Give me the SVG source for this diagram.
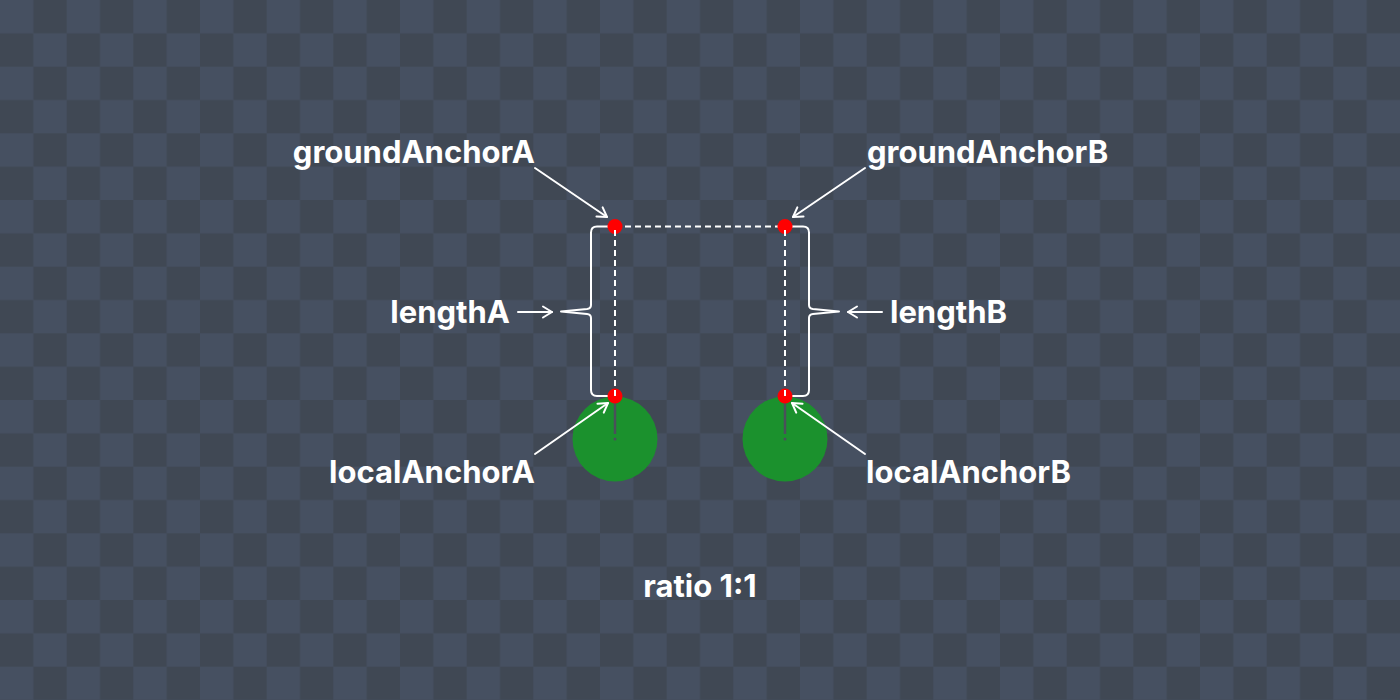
<svg xmlns="http://www.w3.org/2000/svg" width="1400" height="700" viewBox="0 0 1400 700">
  <defs>
    <pattern id="checker" x="0" y="0" width="66.6667" height="66.6667" patternUnits="userSpaceOnUse">
      <rect x="0" y="0" width="66.6667" height="66.6667" fill="#465061"/>
      <rect x="33.3333" y="0" width="33.3333" height="33.3333" fill="#404854"/>
      <rect x="0" y="33.3333" width="33.3333" height="33.3333" fill="#404854"/>
    </pattern>
    <marker id="arrow" viewBox="-12 -7 14 14" markerWidth="14" markerHeight="14" refX="0" refY="0" orient="auto" markerUnits="userSpaceOnUse">
      <path d="M -9 -5.5 L 0 0 L -9 5.5" fill="none" stroke="#ffffff" stroke-width="2" stroke-linecap="round" stroke-linejoin="round"/>
    </marker>
    <style>
      .label { font-family: Inter, "Liberation Sans", sans-serif; font-weight: 700; font-size: 31px; fill: #ffffff; }
      .conn { stroke: #ffffff; stroke-width: 2; fill: none; stroke-linecap: round; }
      .dash { stroke: #ffffff; stroke-width: 2; fill: none; stroke-dasharray: 6 4; }
      .brace { stroke: #ffffff; stroke-width: 2; fill: none; stroke-linejoin: round; }
      .anchor { fill: #ff0000; }
      .body { fill: #1b912d; }
      .axis { stroke: #4a505a; stroke-width: 2.5; }
    </style>
  </defs>
  <rect x="0" y="0" width="1400" height="700" fill="url(#checker)"/>

  <g id="bodyA">
    <circle class="body" cx="615" cy="439" r="42.5"/>
    <line class="axis" x1="615" y1="396" x2="615" y2="434"/>
    <circle cx="615" cy="439" r="1.5" fill="#4a505a"/>
  </g>
  <g id="bodyB">
    <circle class="body" cx="785" cy="439" r="42.5"/>
    <line class="axis" x1="785" y1="396" x2="785" y2="434"/>
    <circle cx="785" cy="439" r="1.5" fill="#4a505a"/>
  </g>

  <g id="connectors">
    <line class="dash" x1="615" y1="226.5" x2="785" y2="226.5"/>
    <path class="brace" d="M 615 226.5 H 597 Q 591 226.5 591 232.5 V 305 Q 591 308.5 587 309 L 561 311.5 L 587 314 Q 591 314.5 591 318 V 390 Q 591 396 597 396 H 615"/>
    <path class="brace" d="M 785 226.5 H 803 Q 809 226.5 809 232.5 V 305 Q 809 308.5 813 309 L 839 311.5 L 813 314 Q 809 314.5 809 318 V 390 Q 809 396 803 396 H 785"/>
    <line class="conn" x1="535" y1="168" x2="607" y2="217" marker-end="url(#arrow)"/>
    <line class="conn" x1="865" y1="168" x2="793" y2="217" marker-end="url(#arrow)"/>
    <line class="conn" x1="518" y1="312" x2="552" y2="312" marker-end="url(#arrow)"/>
    <line class="conn" x1="882" y1="312" x2="848" y2="312" marker-end="url(#arrow)"/>
    <line class="conn" x1="535" y1="454" x2="608" y2="403" marker-end="url(#arrow)"/>
    <line class="conn" x1="865" y1="454" x2="792" y2="403" marker-end="url(#arrow)"/>
  </g>

  <g id="groundAnchorA">
    <circle class="anchor" cx="615" cy="226.5" r="7.5"/>
  </g>
  <g id="groundAnchorB">
    <circle class="anchor" cx="785" cy="226.5" r="7.5"/>
  </g>
  <g id="localAnchorA">
    <circle class="anchor" cx="615" cy="396" r="7.5"/>
  </g>
  <g id="localAnchorB">
    <circle class="anchor" cx="785" cy="396" r="7.5"/>
  </g>
  <g id="verticals">
    <line class="dash" x1="615" y1="396" x2="615" y2="226.5"/>
    <line class="dash" x1="785" y1="396" x2="785" y2="226.5"/>
  </g>

  <g id="labels">
    <text class="label" x="535" y="163" text-anchor="end">groundAnchorA</text>
    <text class="label" x="867" y="163">groundAnchorB</text>
    <text class="label" x="510" y="323" text-anchor="end">lengthA</text>
    <text class="label" x="890" y="323">lengthB</text>
    <text class="label" x="535" y="483" text-anchor="end">localAnchorA</text>
    <text class="label" x="866" y="483">localAnchorB</text>
    <text class="label" x="700" y="597" text-anchor="middle">ratio 1:1</text>
  </g>
</svg>
